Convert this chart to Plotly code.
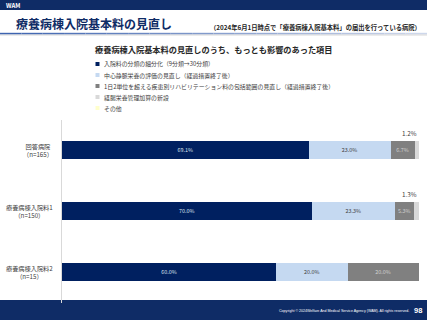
import plotly.graph_objects as go

categories = ["回答病院", "療養病棟入院料1", "療養病棟入院料2"]
n_labels = ["（n=165）", "（n=150）", "（n=15）"]
series_names = [
    "入院料の分類の細分化（9分類→30分類）",
    "中心静脈栄養の評価の見直し（経過措置終了後）",
    "1日2単位を超える疾患別リハビリテーション料の包括範囲の見直し（経過措置終了後）",
    "経腸栄養管理加算の新設",
    "その他",
]
v_bunrui = [69.1, 70.0, 60.0]
v_chushin = [23.0, 23.3, 20.0]
v_reha = [6.7, 5.3, 20.0]
v_keicho = [1.2, 1.3, 0.0]
v_sonota = [0.0, 0.0, 0.0]
series_values = [v_bunrui, v_chushin, v_reha, v_keicho, v_sonota]

colors = ["#002060", "#c5d9f1", "#808080", "#d9d9d9", "#ffffcc"]
text_colors = ["#dfe5f0", "#404040", "#d0d0d0", "#404040", "#404040"]
FONT = "Noto Sans CJK JP"
W, H = 427, 320
NAVY = "#0f2c66"

fig = go.Figure()
for name, vals, col, tc in zip(series_names, series_values, colors, text_colors):
    fig.add_trace(go.Bar(
        y=categories, x=vals, name=name, orientation="h",
        marker=dict(color=col, line=dict(width=0)),
        text=[f"{v:.1f}%" if v >= 3 else "" for v in vals],
        textposition="inside", insidetextanchor="middle", textangle=0,
        insidetextfont=dict(family=FONT, size=7, color=tc),
        width=0.3, showlegend=False,
    ))

def px(x):
    return x / W

def py(y):
    return 1 - y / H

annotations = []
shapes = []

# header band
shapes.append(dict(type="rect", xref="paper", yref="paper", x0=0, x1=1, y0=py(10), y1=1,
                   fillcolor=NAVY, line=dict(width=0), layer="below"))
annotations.append(dict(text="<b>WAM</b>", xref="paper", yref="paper", x=px(4), y=py(5.5),
                        xanchor="left", yanchor="middle", showarrow=False,
                        font=dict(family=FONT, size=6, color="white")))
annotations.append(dict(text="<b>療養病棟入院基本料の見直し</b>", xref="paper", yref="paper",
                        x=px(14), y=py(24), xanchor="left", yanchor="middle", showarrow=False,
                        font=dict(family=FONT, size=12, color="#0f2c66")))
annotations.append(dict(text="<b>（2024年6月1日時点で「療養病棟入院基本料」の届出を行っている病院）</b>",
                        xref="paper", yref="paper", x=px(423), y=py(27.5), xanchor="right",
                        yanchor="middle", showarrow=False,
                        font=dict(family=FONT, size=6.3, color="#262626")))
# gradient line
nseg = 20
c0 = (62, 100, 176)
c1 = (205, 215, 235)
for i in range(nseg):
    t = i / (nseg - 1)
    c = tuple(int(c0[k] + (c1[k] - c0[k]) * t) for k in range(3))
    shapes.append(dict(type="rect", xref="paper", yref="paper",
                       x0=i / nseg, x1=(i + 1) / nseg, y0=py(34.5), y1=py(32.8),
                       fillcolor=f"rgb{c}", line=dict(width=0), layer="below"))
shapes.append(dict(type="rect", xref="paper", yref="paper", x0=0, x1=1, y0=py(35.5), y1=py(34.5),
                   fillcolor="#d8d8d8", line=dict(width=0), layer="below"))

# chart title
annotations.append(dict(text="<b>療養病棟入院基本料の見直しのうち、もっとも影響のあった項目</b>",
                        xref="paper", yref="paper", x=px(93), y=py(49), xanchor="left",
                        yanchor="middle", showarrow=False,
                        font=dict(family=FONT, size=8.2, color="#262626")))

# legend
for i, (name, col) in enumerate(zip(series_names, colors)):
    yy = 64 + i * 11
    shapes.append(dict(type="rect", xref="paper", yref="paper", x0=px(95.5), x1=px(99.5),
                       y0=py(yy + 2), y1=py(yy - 2), fillcolor=col, line=dict(width=0)))
    annotations.append(dict(text=name, xref="paper", yref="paper", x=px(101.5), y=py(yy),
                            xanchor="left", yanchor="middle", showarrow=False,
                            font=dict(family=FONT, size=5.9, color="#404040")))

# category labels
for cat, nl in zip(categories, n_labels):
    annotations.append(dict(text=f"{cat}<br>{nl}", xref="paper", yref="y", x=px(55), y=cat,
                            xanchor="right", yanchor="middle", align="center", showarrow=False,
                            font=dict(family=FONT, size=6.2, color="#404040")))

# small-value labels above bars
for ci, cat in enumerate(categories):
    cum = 0
    for vals in series_values:
        v = vals[ci]
        cum += v
        if 0 < v < 3:
            annotations.append(dict(text=f"{v:.1f}%", xref="x", yref="y", x=cum, y=cat,
                                    xanchor="right", yanchor="bottom", yshift=10,
                                    showarrow=False,
                                    font=dict(family=FONT, size=6.3, color="#404040")))

# footer
shapes.append(dict(type="rect", xref="paper", yref="paper", x0=0, x1=1, y0=0, y1=py(300),
                   fillcolor=NAVY, line=dict(width=0), layer="below"))
annotations.append(dict(text="Copyright © 2024Welfare And Medical Service Agency (WAM). All rights reserved.",
                        xref="paper", yref="paper", x=px(411), y=py(311), xanchor="right",
                        yanchor="middle", showarrow=False,
                        font=dict(family="Liberation Sans", size=3.6, color="white")))
annotations.append(dict(text="<b>98</b>", xref="paper", yref="paper", x=px(424), y=py(310.5),
                        xanchor="right", yanchor="middle", showarrow=False,
                        font=dict(family="Liberation Sans", size=7.5, color="white")))

fig.update_layout(
    width=W, height=H, margin=dict(l=0, r=0, t=0, b=0),
    paper_bgcolor="white", plot_bgcolor="white",
    barmode="stack", bargap=0.7,
    showlegend=False,
    xaxis=dict(domain=[px(62), px(419)], range=[0, 100], visible=False, fixedrange=True),
    yaxis=dict(domain=[py(302.5), py(119.5)], range=[2.5, -0.5], type="category",
               showticklabels=False, showgrid=False, zeroline=False,
               showline=True, linecolor="#d9d9d9", linewidth=1, ticks=""),
    annotations=annotations, shapes=shapes,
    uniformtext=dict(minsize=5, mode="show"),
)

fig.write_html("out.html")
